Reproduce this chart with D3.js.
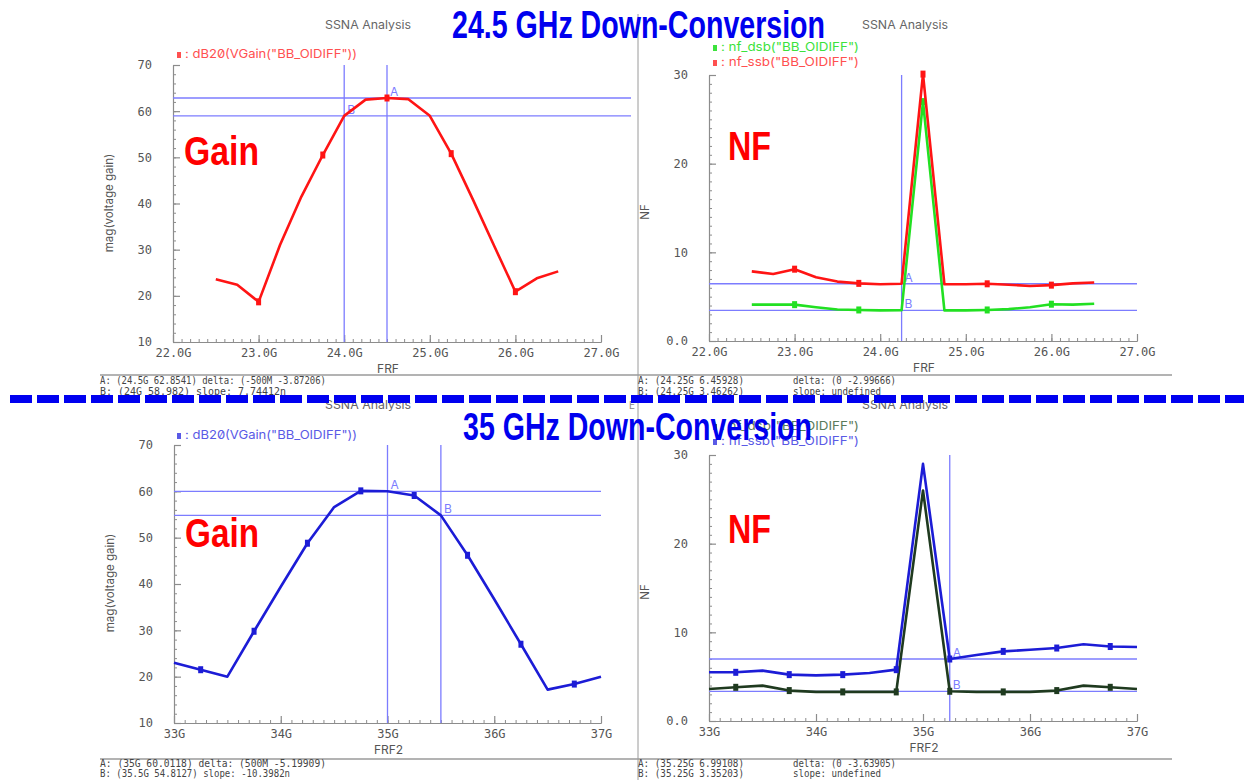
<!DOCTYPE html>
<html>
<head>
<meta charset="utf-8">
<script src="https://cdn.jsdelivr.net/npm/d3@7"></script>
<style>
  body { margin: 0; background: #fff; }
  svg text { font-family: Inter, "DejaVu Sans", sans-serif; font-feature-settings: "zero" 1; font-variant-numeric: slashed-zero; }
  svg text.mono { font-family: "DejaVu Sans Mono", monospace; }
</style>
</head>
<body>
<svg id="chart" width="1244" height="780"></svg>
<script>
// ---- 24.5 GHz down-conversion sweep ----
const frfTop      = [22.5, 22.75, 23.0, 23.25, 23.5, 23.75, 24.0, 24.25, 24.5, 24.75, 25.0, 25.25, 25.5, 25.75, 26.0, 26.25, 26.5];
const gainTop     = [23.6, 22.4, 18.7, 31.0, 41.5, 50.5, 58.982, 62.5, 62.8541, 62.6, 59.0, 50.8, 41.0, 30.9, 20.9, 23.8, 25.3];
const nfSsbTop    = [7.85, 7.55, 8.1, 7.2, 6.7, 6.5, 6.4, 6.45928, 30.1, 6.4, 6.4, 6.45, 6.35, 6.2, 6.3, 6.5, 6.6];
const nfDsbTop    = [4.1, 4.1, 4.1, 3.8, 3.55, 3.5, 3.45, 3.46262, 27.0, 3.45, 3.45, 3.5, 3.6, 3.8, 4.15, 4.1, 4.2];
const markersTop  = [23.0, 23.75, 24.5, 25.25, 26.0];

// ---- 35 GHz down-conversion sweep ----
const frfBot      = [33.0, 33.25, 33.5, 33.75, 34.0, 34.25, 34.5, 34.75, 35.0, 35.25, 35.5, 35.75, 36.0, 36.25, 36.5, 36.75, 37.0];
const gainBot     = [23.0, 21.5, 20.0, 29.8, 39.4, 48.8, 56.6, 60.1, 60.0118, 59.1, 54.8127, 46.2, 36.7, 27.0, 17.2, 18.4, 20.0];
const nfSsbBot    = [5.49, 5.49, 5.68, 5.23, 5.15, 5.23, 5.42, 5.79, 29.0, 6.99108, 7.45, 7.85, 8.04, 8.23, 8.65, 8.4, 8.34];
const nfDsbBot    = [3.61, 3.8, 3.99, 3.43, 3.28, 3.28, 3.28, 3.28, 26.0, 3.35203, 3.28, 3.28, 3.28, 3.43, 3.99, 3.8, 3.61];
const markersBot  = [33.25, 33.75, 34.25, 34.75, 35.25, 35.75, 36.25, 36.75];

// ---- axes ----
const frfTopTicks      = [22, 23, 24, 25, 26, 27];
const frfTopTickLabels = ["22.0G", "23.0G", "24.0G", "25.0G", "26.0G", "27.0G"];
const frfBotTicks      = [33, 34, 35, 36, 37];
const frfBotTickLabels = ["33G", "34G", "35G", "36G", "37G"];
const gainTicks        = [10, 20, 30, 40, 50, 60, 70];
const gainTickLabels   = ["10", "20", "30", "40", "50", "60", "70"];
const nfTicks          = [0, 10, 20, 30];
const nfTickLabels     = ["0.0", "10", "20", "30"];

// ---- cursors A / B  ----
const cursorsGainTop = [{ name: "A", x: 24.5, y: 62.8541 }, { name: "B", x: 24.0, y: 58.982 }];
const cursorsNfTop   = [{ name: "A", x: 24.25, y: 6.45928 }, { name: "B", x: 24.25, y: 3.46262 }];
const cursorsGainBot = [{ name: "A", x: 35.0, y: 60.0118 }, { name: "B", x: 35.5, y: 54.8127 }];
const cursorsNfBot   = [{ name: "A", x: 35.25, y: 6.99108 }, { name: "B", x: 35.25, y: 3.35203 }];

const readouts = [
  { x: 100, y: 384, text: "A: (24.5G 62.8541) delta: (-500M -3.87206)", len: 226 },
  { x: 100, y: 395, text: "B: (24G 58.982)    slope: 7.74412n", len: 186 },
  { x: 638, y: 384, text: "A: (24.25G 6.45928)", len: 106 },
  { x: 793, y: 384, text: "delta: (0 -2.99666)", len: 103 },
  { x: 638, y: 395, text: "B: (24.25G 3.46262)", len: 106 },
  { x: 793, y: 395, text: "slope: undefined", len: 88 },
  { x: 100, y: 767, text: "A: (35G 60.0118)   delta: (500M -5.19909)", len: 226 },
  { x: 100, y: 777, text: "B: (35.5G 54.8127) slope: -10.3982n", len: 190 },
  { x: 638, y: 767, text: "A: (35.25G 6.99108)", len: 106 },
  { x: 793, y: 767, text: "delta: (0 -3.63905)", len: 103 },
  { x: 638, y: 777, text: "B: (35.25G 3.35203)", len: 106 },
  { x: 793, y: 777, text: "slope: undefined", len: 88 }
];

const svg = d3.select("#chart");
const CURSOR = "#7c7cff";
const AXIS = "#8c8c8c";

// frame lines of the two waveform windows
const frame = svg.append("g").attr("stroke", "#9a9a9a").attr("fill", "none");
frame.append("line").attr("x1", 638).attr("x2", 638).attr("y1", 14).attr("y2", 396);
frame.append("line").attr("x1", 638).attr("x2", 638).attr("y1", 400).attr("y2", 780);
frame.append("line").attr("x1", 100).attr("x2", 1172).attr("y1", 375).attr("y2", 375).attr("stroke-width", 1.5);
frame.append("line").attr("x1", 100).attr("x2", 1172).attr("y1", 759).attr("y2", 759).attr("stroke-width", 1.5);

function drawPanel(o) {
  const x = d3.scaleLinear().domain(o.xDomain).range([o.left, o.right]);
  const y = d3.scaleLinear().domain(o.yDomain).range([o.bottom, o.top]);
  const g = svg.append("g");

  // minor ticks
  g.append("g").attr("transform", `translate(0,${o.bottom})`)
    .call(d3.axisBottom(x).tickValues(d3.range(o.xDomain[0], o.xDomain[1] + 1e-9, o.xMinor)).tickSize(-3).tickSizeOuter(0).tickFormat(""))
    .call(s => s.selectAll("line,path").attr("stroke", AXIS));
  g.append("g").attr("transform", `translate(${o.left},0)`)
    .call(d3.axisLeft(y).tickValues(d3.range(o.yDomain[0], o.yDomain[1] + 1e-9, o.yMinor)).tickSize(-3).tickSizeOuter(0).tickFormat(""))
    .call(s => s.selectAll("line,path").attr("stroke", AXIS));

  // major ticks and labels
  g.append("g").attr("transform", `translate(0,${o.bottom})`)
    .call(d3.axisBottom(x).tickValues(o.xTicks).tickSize(-7).tickSizeOuter(0).tickPadding(6)
      .tickFormat((d, i) => o.xLabels[i]))
    .call(s => {
      s.selectAll("line,path").attr("stroke", AXIS).attr("stroke-width", 1.2);
      s.selectAll("text").attr("class", "mono").attr("fill", "#555").attr("font-size", 12);
    });
  g.append("g").attr("transform", `translate(${o.left},0)`)
    .call(d3.axisLeft(y).tickValues(o.yTicks).tickSize(-7).tickSizeOuter(0).tickPadding(21)
      .tickFormat((d, i) => o.yLabels[i]))
    .call(s => {
      s.selectAll("line,path").attr("stroke", AXIS).attr("stroke-width", 1.2);
      s.selectAll("text").attr("class", "mono").attr("fill", "#555").attr("font-size", 12);
    });

  // axis titles
  g.append("text").attr("x", (o.left + o.right) / 2 + 1).attr("y", o.bottom + 31)
    .attr("text-anchor", "middle").attr("fill", "#555").attr("font-size", 12).text(o.xTitle);
  g.append("text").attr("transform", `translate(${o.left - 60},${o.yTitleY}) rotate(-90)`)
    .attr("text-anchor", "middle").attr("fill", "#555").attr("font-size", 11.5).text(o.yTitle);

  // cursors
  const cg = g.append("g").attr("stroke", CURSOR).attr("stroke-width", 1.3);
  const xs = Array.from(new Set(o.cursors.map(c => c.x)));
  xs.forEach(v => cg.append("line").attr("x1", x(v)).attr("x2", x(v)).attr("y1", o.top).attr("y2", o.bottom));
  o.cursors.forEach(c => cg.append("line").attr("x1", o.left).attr("x2", o.hRight).attr("y1", y(c.y)).attr("y2", y(c.y)));
  o.cursors.forEach(c => g.append("text").attr("x", x(c.x) + 3).attr("y", y(c.y) - 2)
    .attr("fill", CURSOR).attr("font-size", 12).text(c.name));

  // traces
  const line = d3.line().x(d => x(d[0])).y(d => y(d[1]));
  o.series.forEach(s => {
    const pts = o.freq.map((f, i) => [f, s.values[i]]);
    g.append("path").datum(pts).attr("d", line).attr("fill", "none")
      .attr("stroke", s.color).attr("stroke-width", 2.6).attr("stroke-linejoin", "round");
    g.selectAll(null).data(pts.filter(p => o.markers.some(m => Math.abs(m - p[0]) < 1e-6)))
      .join("rect").attr("x", d => x(d[0]) - 2.5).attr("y", d => y(d[1]) - 3.5)
      .attr("width", 5).attr("height", 7).attr("fill", s.color);
  });

  // legend
  o.series.forEach((s, i) => {
    const ly = o.legendY + i * 15;
    g.append("rect").attr("x", o.legendX).attr("y", ly - 5).attr("width", 4).attr("height", 6).attr("fill", s.legendColor || s.color);
    g.append("text").attr("x", o.legendX + 8).attr("y", ly + 1).attr("fill", s.legendColor || s.color)
      .attr("font-size", 12).attr("textLength", s.legendLen).attr("lengthAdjust", "spacingAndGlyphs").text(s.label);
  });
}

drawPanel({
  xDomain: [22, 27], yDomain: [10, 70], left: 173, right: 601, top: 65, bottom: 342, hRight: 631,
  xTicks: frfTopTicks, xLabels: frfTopTickLabels, xMinor: 0.1,
  yTicks: gainTicks, yLabels: gainTickLabels, yMinor: 2,
  xTitle: "FRF", yTitle: "mag(voltage gain)", yTitleY: 203,
  cursors: cursorsGainTop,
  freq: frfTop, markers: markersTop,
  series: [{ values: gainTop, color: "#ff1414", legendColor: "#ff5050", label: ': dB20(VGain("BB_OIDIFF"))', legendLen: 172 }],
  legendX: 177, legendY: 57
});

drawPanel({
  xDomain: [22, 27], yDomain: [0, 30], left: 709, right: 1137, top: 75, bottom: 341, hRight: 1137,
  xTicks: frfTopTicks, xLabels: frfTopTickLabels, xMinor: 0.1,
  yTicks: nfTicks, yLabels: nfTickLabels, yMinor: 1,
  xTitle: "FRF", yTitle: "NF", yTitleY: 212,
  cursors: cursorsNfTop,
  freq: frfTop, markers: markersTop,
  series: [
    { values: nfDsbTop, color: "#22e022", legendColor: "#3ce23c", label: ': nf_dsb("BB_OIDIFF")', legendLen: 138 },
    { values: nfSsbTop, color: "#ff1414", legendColor: "#ff5050", label: ': nf_ssb("BB_OIDIFF")', legendLen: 138 }
  ],
  legendX: 713, legendY: 50
});

drawPanel({
  xDomain: [33, 37], yDomain: [10, 70], left: 174, right: 601, top: 445, bottom: 723, hRight: 601,
  xTicks: frfBotTicks, xLabels: frfBotTickLabels, xMinor: 0.1,
  yTicks: gainTicks, yLabels: gainTickLabels, yMinor: 2,
  xTitle: "FRF2", yTitle: "mag(voltage gain)", yTitleY: 583,
  cursors: cursorsGainBot,
  freq: frfBot, markers: markersBot,
  series: [{ values: gainBot, color: "#1c1cd6", legendColor: "#5a5ae6", label: ': dB20(VGain("BB_OIDIFF"))', legendLen: 172 }],
  legendX: 177, legendY: 438
});

drawPanel({
  xDomain: [33, 37], yDomain: [0, 30], left: 709, right: 1137, top: 455, bottom: 721, hRight: 1137,
  xTicks: frfBotTicks, xLabels: frfBotTickLabels, xMinor: 0.1,
  yTicks: nfTicks, yLabels: nfTickLabels, yMinor: 1,
  xTitle: "FRF2", yTitle: "NF", yTitleY: 592,
  cursors: cursorsNfBot,
  freq: frfBot, markers: markersBot,
  series: [
    { values: nfDsbBot, color: "#1f3a1f", legendColor: "#5a7a5a", label: ': nf_dsb("BB_OIDIFF")', legendLen: 138 },
    { values: nfSsbBot, color: "#1c1cd6", legendColor: "#5a5ae6", label: ': nf_ssb("BB_OIDIFF")', legendLen: 138 }
  ],
  legendX: 713, legendY: 429
});

// window captions
[[368, 29], [905, 29], [368, 409], [905, 409]].forEach(p =>
  svg.append("text").attr("x", p[0]).attr("y", p[1]).attr("text-anchor", "middle")
    .attr("fill", "#666").attr("font-size", 11.5).attr("textLength", 86).attr("lengthAdjust", "spacingAndGlyphs").text("SSNA Analysis"));
svg.append("text").attr("x", 629).attr("y", 409).attr("fill", "#888").attr("font-size", 10).text("E");

// cursor readouts
svg.append("g").selectAll("text").data(readouts).join("text")
  .attr("class", "mono")
  .attr("x", d => d.x).attr("y", d => d.y).attr("fill", "#444").attr("font-size", 10)
  .attr("textLength", d => d.len).attr("lengthAdjust", "spacingAndGlyphs").text(d => d.text);

// dashed separator between the two sweeps
svg.append("line").attr("x1", 10).attr("x2", 1244).attr("y1", 399).attr("y2", 399)
  .attr("stroke", "#0000f0").attr("stroke-width", 8).attr("stroke-dasharray", "22,5");

// headline labels
function bigText(txt, x, y, len, size, color) {
  svg.append("text").attr("x", x).attr("y", y).attr("fill", color)
    .attr("font-weight", "bold").attr("font-size", size)
    .attr("textLength", len).attr("lengthAdjust", "spacingAndGlyphs")
    .style("font-family", "'Liberation Sans', Arial, sans-serif")
    .style("font-feature-settings", "normal").text(txt);
}
bigText("24.5 GHz Down-Conversion", 452, 38, 373, 38, "#0000ee");
bigText("35 GHz Down-Conversion", 463, 440, 349, 38, "#0000ee");
bigText("Gain", 184, 165, 75, 40, "#ff0000");
bigText("Gain", 185, 547, 74, 40, "#ff0000");
bigText("NF", 728, 160, 43, 40, "#ff0000");
bigText("NF", 728, 543, 43, 40, "#ff0000");
</script>
</body>
</html>
